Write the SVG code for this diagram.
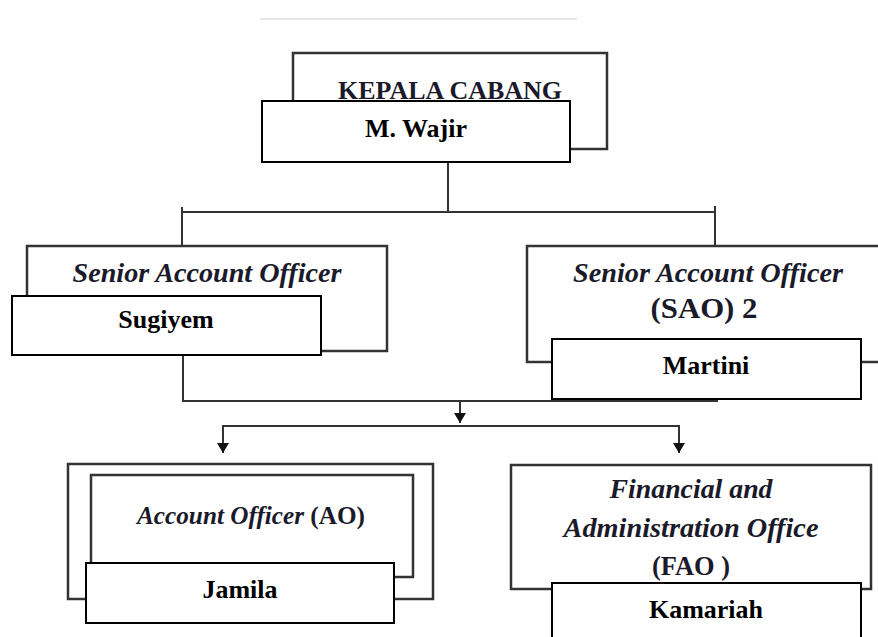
<svg xmlns="http://www.w3.org/2000/svg" width="878" height="637" viewBox="0 0 878 637">
<defs>
<style>
.frame{fill:#fff;stroke:#333;stroke-width:2.5}
.name{fill:#fff;stroke:#000;stroke-width:2}
.conn{fill:none;stroke:#333;stroke-width:2}
.title{font-family:"Liberation Serif","Times New Roman",serif;font-weight:bold;fill:#1a1a2a;text-anchor:middle}
.it{font-style:italic}
.nm{font-family:"Liberation Serif","Times New Roman",serif;font-weight:bold;fill:#000;text-anchor:middle;font-size:26px}
</style>
<marker id="arr" viewBox="0 0 10 12" refX="10" refY="6" markerWidth="10" markerHeight="12" markerUnits="userSpaceOnUse" orient="auto-start-reverse">
<path d="M0,0 L10,6 L0,12 Z" fill="#111"/>
</marker>
</defs>
<rect width="878" height="637" fill="#fff"/>
<line x1="260" y1="19" x2="577" y2="19" stroke="#ccc" stroke-width="1"/>

<g id="connectors">
<path class="conn" d="M448,162 V212"/>
<path class="conn" d="M182,207 V246 M182,212 H715 M715,206 V246"/>
<path class="conn" d="M183,355 V401 H717 V362"/>
<path class="conn" d="M460,401 V423" marker-end="url(#arr)"/>
<path class="conn" d="M223,453 V426 H679 V453" marker-start="url(#arr)" marker-end="url(#arr)"/>
</g>

<g id="kepala">
<rect class="frame" x="293" y="53" width="314" height="96"/>
<text class="title" x="450" y="99" font-size="26" textLength="224" lengthAdjust="spacingAndGlyphs">KEPALA CABANG</text>
<rect class="name" x="262" y="101" width="308" height="61"/>
<text class="nm" x="416" y="137">M. Wajir</text>
</g>

<g id="sao1">
<rect class="frame" x="27" y="246" width="360" height="105"/>
<text class="title it" x="207" y="282" font-size="28" textLength="269" lengthAdjust="spacingAndGlyphs">Senior Account Officer</text>
<rect class="name" x="12" y="296" width="309" height="59"/>
<text class="nm" x="166" y="328">Sugiyem</text>
</g>

<g id="sao2">
<rect class="frame" x="527" y="246" width="362" height="116"/>
<text class="title it" x="708" y="282" font-size="28" textLength="270" lengthAdjust="spacingAndGlyphs">Senior Account Officer</text>
<text class="title" x="704" y="318" font-size="29" textLength="107" lengthAdjust="spacingAndGlyphs">(SAO) 2</text>
<rect class="name" x="552" y="339" width="309" height="60"/>
<text class="nm" x="706" y="374">Martini</text>
</g>

<g id="ao">
<rect class="frame" x="68" y="464" width="365" height="135"/>
<rect class="frame" x="91" y="475" width="322" height="102"/>
<text class="title" x="251" y="524" font-size="25" textLength="228" lengthAdjust="spacingAndGlyphs"><tspan class="it">Account Officer</tspan> (AO)</text>
<rect class="name" x="86" y="563" width="308" height="60"/>
<text class="nm" x="240" y="598">Jamila</text>
</g>

<g id="fao">
<rect class="frame" x="511" y="465" width="360" height="124"/>
<text class="title it" x="691" y="498" font-size="28" textLength="163" lengthAdjust="spacingAndGlyphs">Financial and</text>
<text class="title it" x="691" y="537" font-size="28" textLength="255" lengthAdjust="spacingAndGlyphs">Administration Office</text>
<text class="title" x="691" y="575" font-size="28" textLength="78" lengthAdjust="spacingAndGlyphs">(FAO )</text>
<rect class="name" x="552" y="583" width="309" height="62"/>
<text class="nm" x="706" y="618">Kamariah</text>
</g>
</svg>
